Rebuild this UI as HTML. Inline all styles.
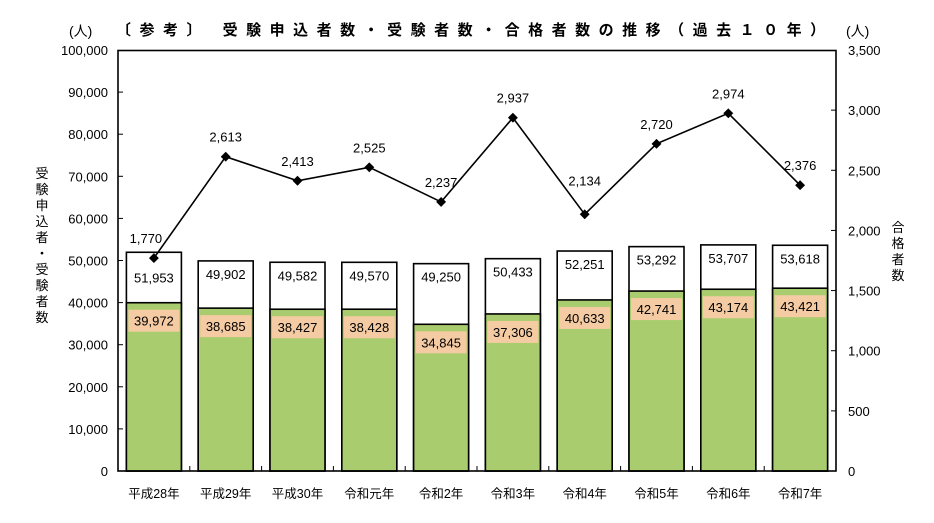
<!DOCTYPE html>
<html><head><meta charset="utf-8"><style>
body{margin:0;background:#fff}
text{font-family:"Liberation Sans","Noto Sans CJK JP",sans-serif;fill:#000}
</style></head><body>
<svg width="934" height="518" viewBox="0 0 934 518" xmlns="http://www.w3.org/2000/svg">
<text x="69" y="36" font-size="14">(人)</text>
<text x="116" y="35" font-size="15" font-weight="bold" letter-spacing="8.5">〔参考〕 受験申込者数・受験者数・合格者数の推移（過去１０年）</text>
<text x="846" y="36" font-size="14">(人)</text>
<g id="bars"></g>
<rect x="118" y="50.5" width="718" height="420.5" fill="none" stroke="#000" stroke-width="1.6"/>
<g font-size="13" text-anchor="end" id="yl"></g>
<g font-size="13" id="yr"></g>
<g font-size="12.5" text-anchor="middle" id="xl"></g>
<g font-size="13">
<text x="42" y="178" text-anchor="middle">受</text><text x="42" y="194" text-anchor="middle">験</text><text x="42" y="210" text-anchor="middle">申</text><text x="42" y="226" text-anchor="middle">込</text><text x="42" y="242" text-anchor="middle">者</text><text x="42" y="258" text-anchor="middle">・</text><text x="42" y="274" text-anchor="middle">受</text><text x="42" y="290" text-anchor="middle">験</text><text x="42" y="306" text-anchor="middle">者</text><text x="42" y="322" text-anchor="middle">数</text>
<text x="898" y="232" text-anchor="middle">合</text><text x="898" y="248" text-anchor="middle">格</text><text x="898" y="264" text-anchor="middle">者</text><text x="898" y="280" text-anchor="middle">数</text>
</g>
</svg>
<script>
const ns="http://www.w3.org/2000/svg",svg=document.querySelector('svg');
function el(t,a,p,txt){const e=document.createElementNS(ns,t);for(const k in a)e.setAttribute(k,a[k]);if(txt!=null)e.textContent=txt;(p||svg).appendChild(e);return e;}
const app=[51953,49902,49582,49570,49250,50433,52251,53292,53707,53618];
const exm=[39972,38685,38427,38428,34845,37306,40633,42741,43174,43421];
const pas=[1770,2613,2413,2525,2237,2937,2134,2720,2974,2376];
const xs=["平成28年","平成29年","平成30年","令和元年","令和2年","令和3年","令和4年","令和5年","令和6年","令和7年"];
const Y=v=>471-v*0.00421,R=v=>471-v*421/3500,W=71.8;
const fmt=n=>n.toLocaleString('en-US');
const g=document.getElementById('bars');
for(let i=0;i<10;i++){const cx=118+W*(i+0.5),x=cx-27.5;
el('rect',{x:x,y:Y(app[i]),width:55,height:471-Y(app[i]),fill:'#fff',stroke:'#000','stroke-width':1.6},g);
el('rect',{x:x,y:Y(exm[i]),width:55,height:471-Y(exm[i]),fill:'#a9cd6e',stroke:'#000','stroke-width':1.6},g);
el('rect',{x:x+2,y:Y(exm[i])+7,width:51,height:22,fill:'#f4cba2'},g);
el('text',{x:cx,y:Y(exm[i])+23,'font-size':13,'text-anchor':'middle'},g,fmt(exm[i]));
el('text',{x:cx,y:(i==0?Y(app[i])+30:Y(app[i])+18),'font-size':13,'text-anchor':'middle'},g,fmt(app[i]));
el('text',{x:cx,y:498},document.getElementById('xl'),xs[i]);
if(i>0){el('line',{x1:118+W*i,y1:471,x2:118+W*i,y2:466,stroke:'#000'},g);}
}
let pts=pas.map((v,i)=>(118+W*(i+0.5))+','+R(v)).join(' ');
el('polyline',{points:pts,fill:'none',stroke:'#000','stroke-width':1.6});
pas.forEach((v,i)=>{const cx=118+W*(i+0.5),cy=R(v);
el('rect',{x:cx-3.5,y:cy-3.5,width:7,height:7,fill:'#000',transform:`rotate(45 ${cx} ${cy})`});
el('text',{x:i==0?cx-8:cx,y:cy-(i==6?29:15),'font-size':13,'text-anchor':'middle'},null,fmt(v));});
for(let k=0;k<=10;k++){const y=Y(k*10000);el('text',{x:108,y:y+5},document.getElementById('yl'),fmt(k*10000));
if(k>0&&k<10)el('line',{x1:118,y1:y,x2:123,y2:y,stroke:'#000'});}
for(let k=0;k<=7;k++){const y=R(k*500);el('text',{x:848,y:y+5},document.getElementById('yr'),fmt(k*500));
if(k>0&&k<7)el('line',{x1:831,y1:y,x2:836,y2:y,stroke:'#000'});}
</script>
</body></html>
